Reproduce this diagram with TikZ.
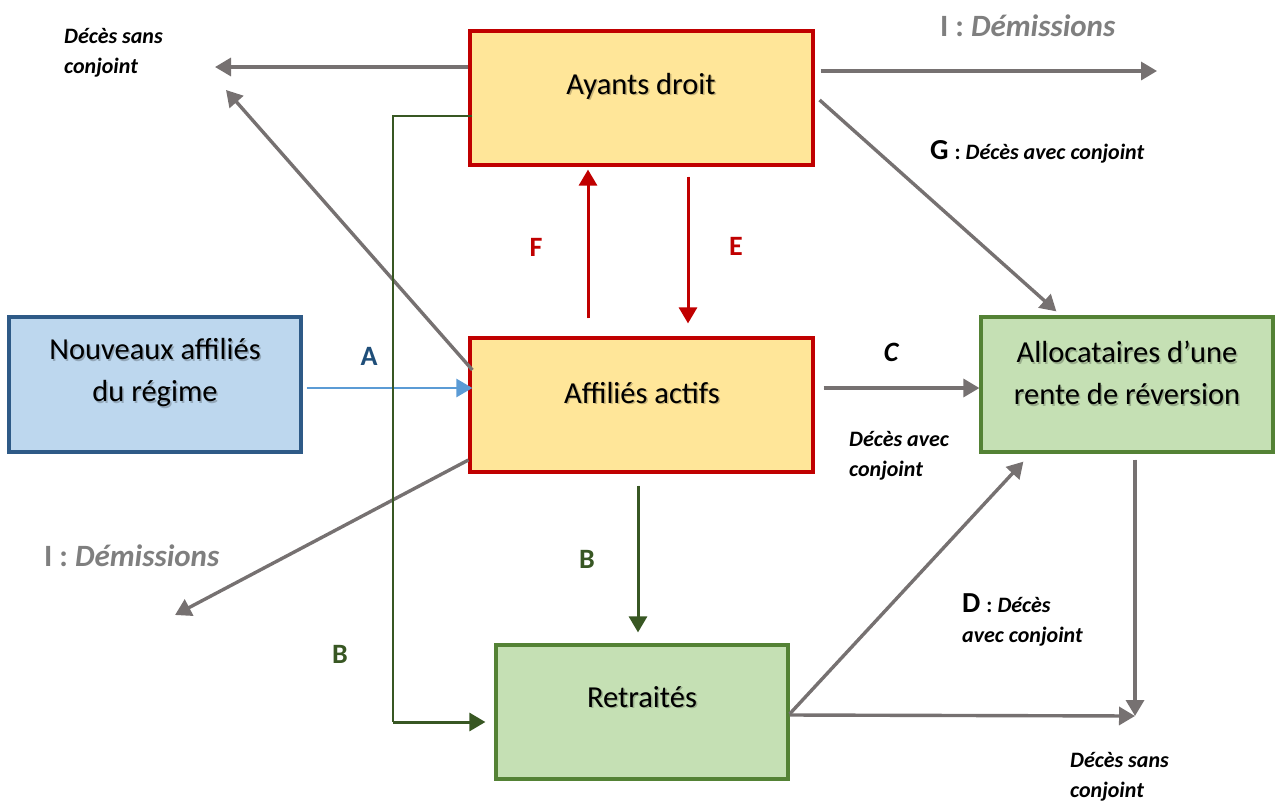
\documentclass[tikz,border=0pt]{standalone}
\usepackage{fontspec}
\setmainfont{Carlito}
\usetikzlibrary{arrows.meta}
\definecolor{boxyellow}{HTML}{FFE699}
\definecolor{boxred}{HTML}{C00000}
\definecolor{boxblue}{HTML}{BDD7EE}
\definecolor{boxblueline}{HTML}{2E5A87}
\definecolor{boxgreen}{HTML}{C5E0B4}
\definecolor{boxgreenline}{HTML}{548235}
\definecolor{flowgray}{HTML}{767171}
\definecolor{flowgreen}{HTML}{385723}
\definecolor{flowblue}{HTML}{5B9BD5}
\definecolor{labelblue}{HTML}{1F4E79}
\definecolor{textgray}{HTML}{7F7F7F}
\tikzset{
  stockbox/.style={draw, line width=3.2pt, inner sep=0pt},
  ybox/.style={stockbox, fill=boxyellow, draw=boxred},
  bbox/.style={stockbox, fill=boxblue, draw=boxblueline},
  gbox/.style={stockbox, fill=boxgreen, draw=boxgreenline},
  boxtext/.style={font=\fontsize{30.5}{42}\selectfont, align=center, inner sep=0pt},
  boxshade/.style={boxtext, text=black, opacity=0.22},
  tip/.style={-{Triangle[length=16pt,width=18pt]}},
  gflow/.style={tip, draw=flowgray, fill=flowgray, line width=3.4pt},
  rflow/.style={tip, draw=boxred, fill=boxred, line width=3pt},
  grflow/.style={tip, draw=flowgreen, fill=flowgreen, line width=3pt},
  bflow/.style={tip, draw=flowblue, fill=flowblue, line width=2.6pt},
  note/.style={font=\fontsize{22}{30}\selectfont\bfseries\itshape, align=left, anchor=west, inner sep=0pt},
  letter/.style={font=\fontsize{28}{30}\selectfont\bfseries, inner sep=0pt},
  quit/.style={font=\fontsize{31}{34}\selectfont\bfseries, text=textgray, anchor=west, inner sep=0pt},
}
\begin{document}
\begin{tikzpicture}[x=1pt, y=-1pt]
\useasboundingbox (0,0) rectangle (1277,806);

% stocks of the scheme
\node[ybox, minimum width=343pt, minimum height=134pt] (ayants) at (641.5,98) {};
\node[ybox, minimum width=343pt, minimum height=134pt] (actifs) at (641.5,405) {};
\node[bbox, minimum width=292pt, minimum height=135pt] (nouveaux) at (155,384.5) {};
\node[gbox, minimum width=292pt, minimum height=135pt] (alloc) at (1127,384.5) {};
\node[gbox, minimum width=292pt, minimum height=134pt] (retraites) at (642,712) {};

% soft shadow under the box titles
\node[boxshade] (sayants) at (642.5,87.5) {Ayants droit};
\node[boxshade] (sactifs) at (643.5,394.5) {Affiliés actifs};
\node[boxshade] (snouveaux) at (156.5,374.5) {Nouveaux affiliés\\du régime};
\node[boxshade] (salloc) at (1128.5,374.5) {Allocataires d’une\\rente de réversion};
\node[boxshade] (sretraites) at (643.5,698.5) {Retraités};

\node[boxtext] (tayants) at (641,86) {Ayants droit};
\node[boxtext] (tactifs) at (642,393) {Affiliés actifs};
\node[boxtext] (tnouveaux) at (155,373) {Nouveaux affiliés\\du régime};
\node[boxtext] (talloc) at (1127,373) {Allocataires d’une\\rente de réversion};
\node[boxtext] (tretraites) at (642,697) {Retraités};

% free ends of the exit flows
\coordinate (sortieA) at (215,67);
\coordinate (sortieB) at (1157,71);
\coordinate (sortieC) at (226,90);
\coordinate (sortieD) at (175,615);
\coordinate (sortieE) at (1135,716);
\coordinate (coude) at (393,722);

% flows
\draw[gflow] ([yshift=31pt]ayants.west) -- (sortieA);
\draw[gflow] ([xshift=6pt,yshift=27pt]ayants.east) -- (sortieB);
\draw[gflow] ([xshift=5pt,yshift=-2pt]ayants.east) -- ([xshift=77pt,yshift=4pt]alloc.north west);
\draw[gflow] ([xshift=4pt,yshift=35pt]actifs.west) -- (sortieC);
\draw[gflow] ([yshift=-55pt]actifs.west) -- (sortieD);
\draw[rflow] ([xshift=-53.5pt,yshift=18pt]actifs.north) -- ([xshift=-53.5pt,yshift=-3pt]ayants.south);
\draw[rflow] ([xshift=46.5pt,yshift=-10pt]ayants.south) -- ([xshift=46.5pt,yshift=13pt]actifs.north);
\draw[bflow] ([xshift=4pt,yshift=-3.5pt]nouveaux.east) -- ([xshift=4pt,yshift=17pt]actifs.west);
\draw[gflow] ([xshift=9pt,yshift=17pt]actifs.east) -- ([yshift=-3.5pt]alloc.west);
\draw[grflow] ([xshift=-3.5pt,yshift=-12pt]actifs.south) -- ([xshift=-4pt,yshift=11pt]retraites.north);
\draw[flowgreen, line width=2pt] ([xshift=4pt,yshift=-18pt]ayants.west) -| (coude);
\draw[grflow] (coude) -- ([xshift=-9pt,yshift=-10pt]retraites.west);
\draw[gflow] ([xshift=8pt,yshift=-6pt]alloc.south) -- (sortieE);
\draw[gflow] ([yshift=-2pt]retraites.east) -- ([xshift=44pt,yshift=-8pt]alloc.south west);
\draw[gflow] ([yshift=-3pt]retraites.east) -- (sortieE);

% labels
\node[note] (l1) at (64,53) {Décès sans\\conjoint};
\node[quit] (l2) at (940,26) {I : \textit{Démissions}};
\node[anchor=west, inner sep=0pt] (l3) at (930,152) {{\fontsize{29}{30}\selectfont\bfseries G}\hspace{6pt}{\fontsize{22}{29}\selectfont\bfseries : \itshape Décès avec conjoint}};
\node[letter, text=boxred] (lF) at (536,247) {F};
\node[letter, text=boxred] (lE) at (736,246) {E};
\node[letter, text=labelblue] (lA) at (369,356) {A};
\node[letter, font=\fontsize{28}{30}\selectfont\bfseries\itshape] (lC) at (891,352) {C};
\node[note] (l4) at (849,456) {Décès avec\\conjoint};
\node[quit] (l5) at (44,556) {I : \textit{Démissions}};
\node[letter, text=flowgreen] (lB1) at (587,559) {B};
\node[letter, text=flowgreen] (lB2) at (340,654) {B};
\node[note] (l6) at (962,620) {{\fontsize{29}{30}\selectfont\upshape D}\hspace{6pt}\upshape: \itshape Décès\\avec conjoint};
\node[note] (l7) at (1070,777) {Décès sans\\conjoint};
\end{tikzpicture}
\end{document}
